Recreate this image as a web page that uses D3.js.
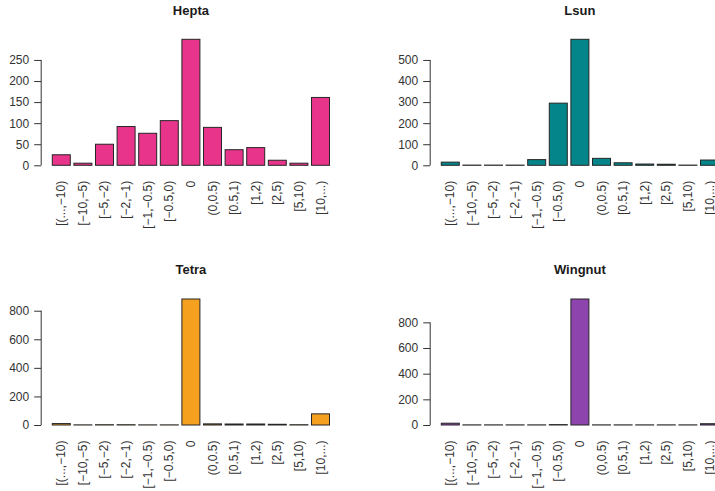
<!DOCTYPE html>
<html>
<head>
<meta charset="utf-8">
<script src="https://cdn.jsdelivr.net/npm/d3@7"></script>
<style>
  html, body { margin: 0; padding: 0; background: #ffffff; }
  svg { display: block; font-family: "Liberation Sans", Arial, Helvetica, sans-serif; }
</style>
</head>
<body>
<svg id="chart" width="715" height="491"></svg>
<script>
// ---- data ----
const categories = ["[(...,\u221210)", "[\u221210,\u22125)", "[\u22125,\u22122)", "[\u22122,\u22121)", "[\u22121,\u22120.5)", "[\u22120.5,0)", "0", "(0,0.5)", "[0.5,1)", "[1,2)", "[2,5)", "[5,10)", "[10,...)"];
const heptaValues   = [25, 5, 50, 92, 76, 106, 299, 90, 37, 42, 12, 5, 161];
const lsunValues    = [15, 1, 1, 1, 27, 295, 598, 33, 12, 6, 5, 1, 25];
const tetraValues   = [10, 1, 2, 2, 1, 1, 882, 8, 7, 7, 5, 2, 78];
const wingnutValues = [14, 1, 1, 1, 1, 3, 982, 1, 1, 1, 1, 1, 10];
const titles = ["Hepta", "Lsun", "Tetra", "Wingnut"];
const colors = ["#E8348A", "#04858A", "#F5A01F", "#8E44AD"];

const panels = [
  { title: titles[0], values: heptaValues,   color: colors[0], left: 41.2, base: 165.3, titleY: 15.3 },
  { title: titles[1], values: lsunValues,    color: colors[1], left: 430.2, base: 165.3, titleY: 15.3 },
  { title: titles[2], values: tetraValues,   color: colors[2], left: 41.2, base: 425, titleY: 273.8 },
  { title: titles[3], values: wingnutValues, color: colors[3], left: 430.2, base: 425, titleY: 273.8 }
];

const svg = d3.select("#chart");
const plotW = 299.4;   // plot region width (bars + margins)
const plotH = 126;     // height of the tallest bar

panels.forEach(p => {
  const g = svg.append("g");
  const n = p.values.length;
  // R barplot geometry: width 1, space 0.2
  const uMin = 0.2 - 0.04 * (1.2 * n - 0.2);
  const uMax = 1.2 * n + 0.04 * (1.2 * n - 0.2);
  const x = d3.scaleLinear().domain([uMin, uMax]).range([p.left, p.left + plotW]);
  const y = d3.scaleLinear().domain([0, d3.max(p.values)]).range([p.base, p.base - plotH]);

  // bars
  g.selectAll("rect.bar").data(p.values).join("rect")
    .attr("class", "bar")
    .attr("x", (d, i) => x(0.2 + 1.2 * i))
    .attr("width", (d, i) => x(1.2 + 1.2 * i) - x(0.2 + 1.2 * i))
    .attr("y", d => y(d))
    .attr("height", d => Math.max(0, y(0) - y(d)))
    .attr("fill", p.color)
    .attr("stroke", "#262626")
    .attr("stroke-width", 1);

  // y axis (R style: line from first to last tick)
  const ticks = y.ticks(5);
  const axis = d3.axisLeft(y).tickValues(ticks).tickSize(7).tickSizeOuter(0).tickPadding(5);
  const ag = g.append("g").attr("transform", `translate(${p.left},0)`).call(axis);
  ag.select(".domain").remove();
  ag.append("line")
    .attr("x1", 0).attr("x2", 0)
    .attr("y1", y(ticks[0])).attr("y2", y(ticks[ticks.length - 1]))
    .attr("stroke", "#333").attr("stroke-width", 1);
  ag.selectAll(".tick line").attr("stroke", "#333");
  ag.selectAll(".tick text").attr("fill", "#333").style("font-size", "12px")
    .style("font-family", "'Liberation Sans', Arial, sans-serif");

  // x category labels (rotated, las = 2)
  g.selectAll("text.cat").data(categories).join("text")
    .attr("class", "cat")
    .attr("transform", (d, i) => `translate(${x(0.7 + 1.2 * i) + 4},${p.base + 15.5}) rotate(-90)`)
    .attr("text-anchor", "end")
    .attr("fill", "#333")
    .style("font-size", "12px")
    .text(d => d);

  // title
  g.append("text")
    .attr("x", p.left + plotW / 2)
    .attr("y", p.titleY)
    .attr("text-anchor", "middle")
    .attr("font-weight", "bold")
    .attr("fill", "#1a1a1a")
    .style("font-size", "13px")
    .text(p.title);
});
</script>
</body>
</html>
